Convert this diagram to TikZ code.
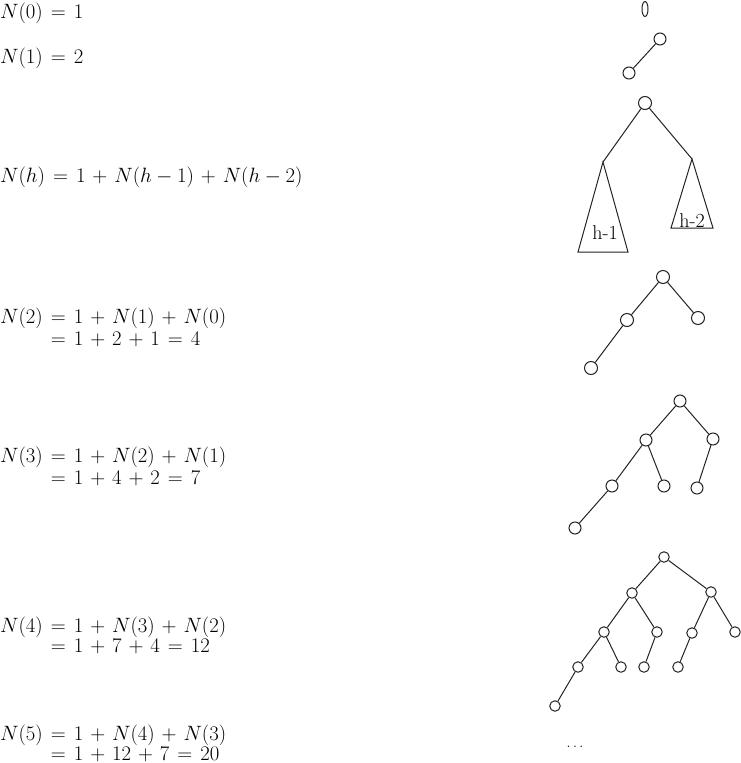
\documentclass[tikz,border=0pt]{standalone}
\usepackage{amsmath}
\usetikzlibrary{shapes.geometric}
\definecolor{TreeGray}{RGB}{35,35,35}
\thickmuskip=7mu
\newcommand\pls{\mskip2mu+\mskip2mu}
\tikzset{
  vtx/.style={draw=TreeGray,circle,line width=1pt,minimum size=11pt,inner sep=0pt},
  edg/.style={draw=TreeGray,line width=1pt},
  eqn/.style={anchor=base west,inner sep=0pt,font=\fontsize{20}{24}\selectfont},
  sublab/.style={inner sep=0pt,font=\rmfamily\fontsize{20}{24}\selectfont},
}
\begin{document}
\begin{tikzpicture}[x=1pt,y=-1pt]
        \useasboundingbox (0,0) rectangle (741,763);
        % recurrences
        \node[eqn] (e0) at (0,18) {$N(0) = 1$};
        \node[eqn] (e1) at (0,63) {$N(1) = 2$};
        \node[eqn] (eh) at (0,182) {$N(h) = 1 \pls N(h-1) \pls N(h-2)$};
        \node[eqn] (e2a) at (0,323) {$N(2) = 1 \pls N(1) \pls N(0)$};
        \node[eqn] (e2b) at (0,345) {$\phantom{N(2)} = 1 \pls 2 \pls 1 = 4$};
        \node[eqn] (e3a) at (0,462) {$N(3) = 1 \pls N(2) \pls N(1)$};
        \node[eqn] (e3b) at (0,484) {$\phantom{N(3)} = 1 \pls 4 \pls 2 = 7$};
        \node[eqn] (e4a) at (0,632) {$N(4) = 1 \pls N(3) \pls N(2)$};
        \node[eqn] (e4b) at (0,652) {$\phantom{N(4)} = 1 \pls 7 \pls 4 = 12$};
        \node[eqn] (e5a) at (0,740) {$N(5) = 1 \pls N(4) \pls N(3)$};
        \node[eqn] (e5b) at (0,760) {$\phantom{N(5)} = 1 \pls 12 \pls 7 = 20$};
        % h = 0, 1
        \node[draw=TreeGray,ellipse,line width=1pt,inner sep=0pt,
              minimum width=6pt,minimum height=15pt] (z0) at (645,9) {};
        \node[vtx,minimum size=12pt] (a1) at (660,39) {};
        \node[vtx,minimum size=12pt] (a2) at (629,73) {};
        \draw[edg] (a1) -- (a2);
        % general h
        \node[vtx,minimum size=13pt] (hr) at (645,103) {};
        \coordinate (hl) at (603,162);
        \coordinate (hq) at (692,159);
        \draw[edg] (hr) -- (hl); \draw[edg] (hr) -- (hq);
        \draw[edg] (hl) -- (578,252) -- (628,252) -- cycle;
        \draw[edg] (hq) -- (671,228) -- (713,228) -- cycle;
        \node[sublab] (t1) at (605,233) {h-1};
        \node[sublab] (t2) at (692,221) {h-2};
        % h = 2
        \begin{scope}[every node/.style={vtx,minimum size=13pt}]
          \node (b0) at (663,277) {};
          \node (b1) at (627,320) {};
          \node (b2) at (698,318) {};
          \node (b3) at (591,368) {};
        \end{scope}
        \foreach \p/\c in {b0/b1,b0/b2,b1/b3} \draw[edg] (\p) -- (\c);
        % h = 3
        \begin{scope}[every node/.style={vtx,minimum size=12pt}]
          \node (c0) at (680,401) {};
          \node (c1) at (646,440) {};
          \node (c2) at (713,439) {};
          \node (c3) at (612,486) {};
          \node (c4) at (664,486) {};
          \node (c5) at (697,488) {};
          \node (c6) at (575,528) {};
        \end{scope}
        \foreach \p/\c in {c0/c1,c0/c2,c1/c3,c1/c4,c2/c5,c3/c6} \draw[edg] (\p) -- (\c);
        % h = 4
        \begin{scope}[every node/.style={vtx,minimum size=10.5pt}]
          \node (d0) at (664,557) {};
          \node (d1) at (632,593) {};
          \node (d2) at (711,592) {};
          \node (d3) at (604,632) {};
          \node (d4) at (657,632) {};
          \node (d5) at (692,633) {};
          \node (d6) at (735,632) {};
          \node (d7) at (578,667) {};
          \node (d8) at (621,667) {};
          \node (d9) at (644,667) {};
          \node (d10) at (678,667) {};
          \node (d11) at (555,706) {};
        \end{scope}
        \foreach \p/\c in {d0/d1,d0/d2,d1/d3,d1/d4,d2/d5,d2/d6,d3/d7,d3/d8,d4/d9,d5/d10,d7/d11}
          \draw[edg] (\p) -- (\c);
        \node[inner sep=0pt,font=\fontsize{15}{18}\selectfont] (dots) at (575,747) {$\ldots$};
      \end{tikzpicture}
\end{document}
